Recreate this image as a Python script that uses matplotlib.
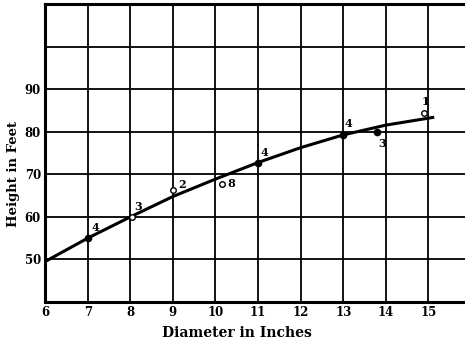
import numpy as np
import matplotlib
matplotlib.use("Agg")
import matplotlib.pyplot as plt

# measured trees: diameter (in), height (ft), number of trees, filled marker?
diam = [7.0, 8.05, 9.0, 10.15, 11.0, 13.0, 13.8, 14.9]
height = [55.0, 60.0, 66.4, 67.8, 72.7, 79.2, 80.0, 84.4]
counts = ["4", "3", "2", "8", "4", "4", "3", "1"]
filled = [True, False, False, False, True, True, True, False]
# label offsets in points
offs = [(3, 5), (1, 5), (4, 1), (4, -2), (2, 5), (1, 6), (1, -11), (-2, 6)]

# smoothed height curve
curve_d = [6.0, 7.0, 8.0, 9.0, 10.0, 11.0, 12.0, 13.0, 14.0, 15.1]
curve_h = [49.5, 55.0, 60.0, 64.8, 68.9, 72.8, 76.3, 79.3, 81.6, 83.4]

xticks = [6, 7, 8, 9, 10, 11, 12, 13, 14, 15]
yticks = [50, 60, 70, 80, 90]

plt.rcParams['font.family'] = ['DejaVu Serif']
fig = plt.figure(figsize=(4.65, 3.4), dpi=100)
ax = fig.add_axes([0.097, 0.112, 0.916, 0.875])
ax.set_xlim(6, 16)
ax.set_ylim(40, 110)

ax.set_xticks(range(6, 17))
ax.set_xticklabels([str(t) for t in xticks] + [""])
ax.set_yticks(range(40, 111, 10))
ax.set_yticklabels([""] + [str(t) for t in yticks] + ["", ""])
ax.grid(True, color="black", lw=1.3)
ax.tick_params(length=0, pad=3, labelsize=8.5)
for lab in ax.get_xticklabels() + ax.get_yticklabels():
    lab.set_fontweight("bold")
for s in ax.spines.values():
    s.set_linewidth(2.2)

ax.plot(curve_d, curve_h, color="black", lw=2.2, zorder=3)

for x, y, c, f, o in zip(diam, height, counts, filled, offs):
    ax.plot(x, y, "o", ms=4.5 if f else 4, mfc="black" if f else "white",
            mec="black", mew=1, zorder=4)
    ax.annotate(c, (x, y), xytext=o, textcoords="offset points",
                fontsize=8, fontweight="bold", zorder=5)

ax.set_xlabel("Diameter in Inches", fontsize=10, fontweight="bold", labelpad=1)
ax.set_ylabel("Height in Feet", fontsize=9.5, fontweight="bold")
ax.yaxis.set_label_coords(-0.058, 0.43)
ax.xaxis.set_label_coords(0.45, -0.08)

fig.savefig("out.png", dpi=100)
